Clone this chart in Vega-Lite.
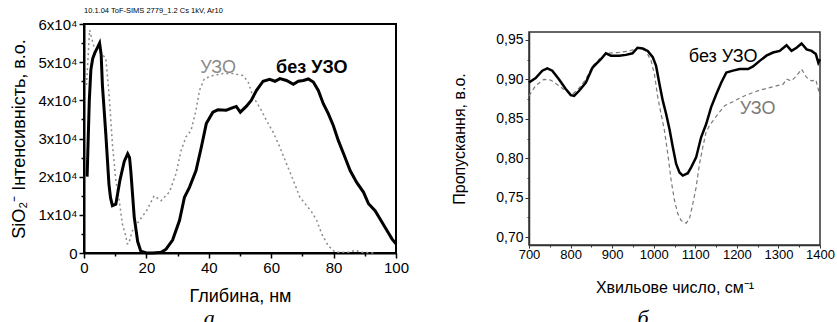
{
  "$schema": "https://vega.github.io/schema/vega-lite/v6.json",
  "background": "white",
  "padding": {"left": 9, "top": 5, "right": 0, "bottom": 0},
  "spacing": 41,
  "config": {
    "font": "Liberation Sans",
    "view": {"stroke": "black", "strokeWidth": 2},
    "axis": {"grid": false, "domainColor": "black", "tickColor": "black", "labelColor": "black", "titleColor": "black", "labelFont": "Liberation Sans", "titleFont": "Liberation Sans", "titleFontWeight": "normal", "labelOverlap": false, "labelFlush": false},
    "title": {"font": "Liberation Sans", "color": "black"}
  },
  "hconcat": [
    {
      "title": {"text": "а", "orient": "bottom", "font": "Liberation Serif", "fontStyle": "italic", "fontWeight": "normal", "fontSize": 22, "anchor": "middle", "offset": 2},
      "vconcat": [
        {
          "width": 312,
          "height": 229,
          "title": {"text": "10.1.04 ToF-SIMS 2779_1.2 Cs 1kV, Ar10", "fontSize": 7.5, "fontWeight": "normal", "anchor": "start", "frame": "group", "offset": 3},
          "data": {"values": [
            {"s": "без УЗО", "x": 1, "y": 20000}, {"s": "без УЗО", "x": 1.7, "y": 40000}, {"s": "без УЗО", "x": 2.2, "y": 48000}, {"s": "без УЗО", "x": 2.8, "y": 51000}, {"s": "без УЗО", "x": 3.5, "y": 52500}, {"s": "без УЗО", "x": 4.3, "y": 53800}, {"s": "без УЗО", "x": 5, "y": 55000}, {"s": "без УЗО", "x": 5.5, "y": 52000}, {"s": "без УЗО", "x": 5.9, "y": 44000}, {"s": "без УЗО", "x": 6.5, "y": 37000}, {"s": "без УЗО", "x": 7, "y": 31000}, {"s": "без УЗО", "x": 8, "y": 18000}, {"s": "без УЗО", "x": 8.5, "y": 14500}, {"s": "без УЗО", "x": 9.1, "y": 12400}, {"s": "без УЗО", "x": 10.2, "y": 12800}, {"s": "без УЗО", "x": 11.5, "y": 19000}, {"s": "без УЗО", "x": 12.9, "y": 24000}, {"s": "без УЗО", "x": 14, "y": 26000}, {"s": "без УЗО", "x": 14.6, "y": 25000}, {"s": "без УЗО", "x": 15, "y": 21500}, {"s": "без УЗО", "x": 16.1, "y": 9400}, {"s": "без УЗО", "x": 17.2, "y": 3000}, {"s": "без УЗО", "x": 18.2, "y": 500}, {"s": "без УЗО", "x": 20, "y": 0}, {"s": "без УЗО", "x": 22, "y": 0}, {"s": "без УЗО", "x": 24, "y": 100}, {"s": "без УЗО", "x": 25, "y": 300}, {"s": "без УЗО", "x": 26.3, "y": 1000}, {"s": "без УЗО", "x": 28.4, "y": 3400}, {"s": "без УЗО", "x": 30.6, "y": 8500}, {"s": "без УЗО", "x": 32.2, "y": 14600}, {"s": "без УЗО", "x": 33.8, "y": 17200}, {"s": "без УЗО", "x": 35.9, "y": 21600}, {"s": "без УЗО", "x": 37.6, "y": 27700}, {"s": "без УЗО", "x": 39.2, "y": 33900}, {"s": "без УЗО", "x": 41.3, "y": 36900}, {"s": "без УЗО", "x": 42.9, "y": 37500}, {"s": "без УЗО", "x": 45.6, "y": 37400}, {"s": "без УЗО", "x": 47.5, "y": 38000}, {"s": "без УЗО", "x": 48.8, "y": 38400}, {"s": "без УЗО", "x": 50.1, "y": 36900}, {"s": "без УЗО", "x": 52, "y": 38400}, {"s": "без УЗО", "x": 53.6, "y": 40000}, {"s": "без УЗО", "x": 55.3, "y": 42600}, {"s": "без УЗО", "x": 57.4, "y": 45000}, {"s": "без УЗО", "x": 59.5, "y": 45500}, {"s": "без УЗО", "x": 61.2, "y": 45000}, {"s": "без УЗО", "x": 62.8, "y": 45700}, {"s": "без УЗО", "x": 64.9, "y": 45200}, {"s": "без УЗО", "x": 67.1, "y": 44200}, {"s": "без УЗО", "x": 68.7, "y": 45000}, {"s": "без УЗО", "x": 70.3, "y": 45200}, {"s": "без УЗО", "x": 71.9, "y": 45600}, {"s": "без УЗО", "x": 73.5, "y": 44800}, {"s": "без УЗО", "x": 75.1, "y": 42600}, {"s": "без УЗО", "x": 76.7, "y": 39100}, {"s": "без УЗО", "x": 78.3, "y": 36500}, {"s": "без УЗО", "x": 79.9, "y": 33400}, {"s": "без УЗО", "x": 81.5, "y": 29500}, {"s": "без УЗО", "x": 83.2, "y": 26000}, {"s": "без УЗО", "x": 85.3, "y": 21600}, {"s": "без УЗО", "x": 87.4, "y": 18500}, {"s": "без УЗО", "x": 89.6, "y": 15900}, {"s": "без УЗО", "x": 91.2, "y": 12900}, {"s": "без УЗО", "x": 93.3, "y": 11100}, {"s": "без УЗО", "x": 94.9, "y": 8900}, {"s": "без УЗО", "x": 97.1, "y": 5900}, {"s": "без УЗО", "x": 98.7, "y": 3700}, {"s": "без УЗО", "x": 100, "y": 2400},
            {"s": "УЗО", "x": 0.8, "y": 44000}, {"s": "УЗО", "x": 1.8, "y": 58400}, {"s": "УЗО", "x": 3.2, "y": 54000}, {"s": "УЗО", "x": 4.8, "y": 53000}, {"s": "УЗО", "x": 7, "y": 51000}, {"s": "УЗО", "x": 8, "y": 42000}, {"s": "УЗО", "x": 9.1, "y": 28600}, {"s": "УЗО", "x": 10.2, "y": 19000}, {"s": "УЗО", "x": 11.3, "y": 13700}, {"s": "УЗО", "x": 12.3, "y": 7600}, {"s": "УЗО", "x": 13.2, "y": 5000}, {"s": "УЗО", "x": 13.9, "y": 2400}, {"s": "УЗО", "x": 14.3, "y": 2400}, {"s": "УЗО", "x": 15.5, "y": 5800}, {"s": "УЗО", "x": 17.7, "y": 8500}, {"s": "УЗО", "x": 20, "y": 11000}, {"s": "УЗО", "x": 22.5, "y": 15000}, {"s": "УЗО", "x": 24.7, "y": 13700}, {"s": "УЗО", "x": 27.4, "y": 16000}, {"s": "УЗО", "x": 29.5, "y": 20800}, {"s": "УЗО", "x": 31.1, "y": 26800}, {"s": "УЗО", "x": 32.7, "y": 30400}, {"s": "УЗО", "x": 34.3, "y": 32100}, {"s": "УЗО", "x": 35.9, "y": 37400}, {"s": "УЗО", "x": 37, "y": 42600}, {"s": "УЗО", "x": 38.6, "y": 45700}, {"s": "УЗО", "x": 41.3, "y": 46500}, {"s": "УЗО", "x": 44.5, "y": 47000}, {"s": "УЗО", "x": 47.7, "y": 47000}, {"s": "УЗО", "x": 51, "y": 46500}, {"s": "УЗО", "x": 52.6, "y": 44800}, {"s": "УЗО", "x": 54.2, "y": 40900}, {"s": "УЗО", "x": 56.3, "y": 38200}, {"s": "УЗО", "x": 58.5, "y": 34700}, {"s": "УЗО", "x": 60.6, "y": 31700}, {"s": "УЗО", "x": 62.8, "y": 27700}, {"s": "УЗО", "x": 64.9, "y": 23400}, {"s": "УЗО", "x": 67.1, "y": 19000}, {"s": "УЗО", "x": 69.2, "y": 14600}, {"s": "УЗО", "x": 71.4, "y": 12400}, {"s": "УЗО", "x": 73, "y": 10700}, {"s": "УЗО", "x": 74.6, "y": 8500}, {"s": "УЗО", "x": 76.2, "y": 5000}, {"s": "УЗО", "x": 78.3, "y": 1900}, {"s": "УЗО", "x": 80.5, "y": 200}, {"s": "УЗО", "x": 85.3, "y": 200}, {"s": "УЗО", "x": 86.9, "y": 800}, {"s": "УЗО", "x": 88.5, "y": 200}, {"s": "УЗО", "x": 92.8, "y": 0}
          ]},
          "encoding": {
            "x": {"field": "x", "type": "quantitative", "scale": {"domain": [0, 100], "nice": false},
              "axis": {"title": "Глибина, нм", "titleFontSize": 18, "titlePadding": 12, "labelFontSize": 15, "labelPadding": 2, "domainWidth": 2, "tickWidth": 1.5,
                "values": [0, 10, 20, 30, 40, 50, 60, 70, 80, 90, 100],
                "labelExpr": "datum.value % 20 == 0 ? datum.label : ''",
                "tickSize": {"condition": {"test": "datum.value % 20 != 0", "value": 3}, "value": 5}}},
            "y": {"field": "y", "type": "quantitative", "scale": {"domain": [0, 60000], "nice": false},
              "axis": {"title": "SiO₂⁻ Інтенсивність, в.о.", "titleFontSize": 18, "titlePadding": 10, "labelFontSize": 15, "labelPadding": 2, "domainWidth": 2, "tickWidth": 1.5,
                "values": [0, 5000, 10000, 15000, 20000, 25000, 30000, 35000, 40000, 45000, 50000, 55000, 60000],
                "labelExpr": "datum.value % 10000 != 0 ? '' : (datum.value == 0 ? '0' : (datum.value / 10000) + 'x10⁴')",
                "tickSize": {"condition": {"test": "datum.value % 10000 != 0", "value": 3}, "value": 5}}}
          },
          "layer": [
            {"transform": [{"filter": "datum.s == 'УЗО'"}], "mark": {"type": "line", "color": "#8a8a8a", "strokeWidth": 1.5, "strokeDash": [2, 3]}},
            {"transform": [{"filter": "datum.s == 'без УЗО'"}], "mark": {"type": "line", "color": "black", "strokeWidth": 3}},
            {"data": {"values": [{"x": 43, "y": 48600, "t": "УЗО"}]}, "mark": {"type": "text", "fontSize": 18, "color": "#8a8a8a"}, "encoding": {"text": {"field": "t"}}},
            {"data": {"values": [{"x": 73, "y": 48400, "t": "без УЗО"}]}, "mark": {"type": "text", "fontSize": 18, "fontWeight": "bold", "color": "black"}, "encoding": {"text": {"field": "t"}}}
          ]
        }
      ]
    },
    {
      "title": {"text": "б", "orient": "bottom", "font": "Liberation Serif", "fontStyle": "italic", "fontWeight": "normal", "fontSize": 22, "anchor": "middle", "offset": 12},
      "spacing": 0,
      "vconcat": [
        {
          "width": 291,
          "height": 7,
          "data": {"values": [{"t": ""}]},
          "mark": {"type": "point", "opacity": 0},
          "view": {"stroke": null}
        },
        {
          "width": 291,
          "height": 213,
          "view": {"stroke": "#333333", "strokeWidth": 1.5},
          "data": {"values": [
            {"s": "без УЗО", "x": 700, "y": 0.896}, {"s": "без УЗО", "x": 716, "y": 0.9015}, {"s": "без УЗО", "x": 732, "y": 0.911}, {"s": "без УЗО", "x": 744, "y": 0.914}, {"s": "без УЗО", "x": 756, "y": 0.911}, {"s": "без УЗО", "x": 772, "y": 0.9}, {"s": "без УЗО", "x": 788, "y": 0.888}, {"s": "без УЗО", "x": 800.5, "y": 0.88}, {"s": "без УЗО", "x": 808.6, "y": 0.879}, {"s": "без УЗО", "x": 820.7, "y": 0.8855}, {"s": "без УЗО", "x": 836.8, "y": 0.896}, {"s": "без УЗО", "x": 852.9, "y": 0.915}, {"s": "без УЗО", "x": 873, "y": 0.9255}, {"s": "без УЗО", "x": 885, "y": 0.933}, {"s": "без УЗО", "x": 897, "y": 0.93}, {"s": "без УЗО", "x": 917, "y": 0.93}, {"s": "без УЗО", "x": 933, "y": 0.931}, {"s": "без УЗО", "x": 949, "y": 0.933}, {"s": "без УЗО", "x": 961, "y": 0.94}, {"s": "без УЗО", "x": 973.5, "y": 0.939}, {"s": "без УЗО", "x": 985.6, "y": 0.936}, {"s": "без УЗО", "x": 997.7, "y": 0.928}, {"s": "без УЗО", "x": 1005.7, "y": 0.917}, {"s": "без УЗО", "x": 1013.8, "y": 0.894}, {"s": "без УЗО", "x": 1021.8, "y": 0.873}, {"s": "без УЗО", "x": 1029.9, "y": 0.856}, {"s": "без УЗО", "x": 1037.9, "y": 0.837}, {"s": "без УЗО", "x": 1046, "y": 0.814}, {"s": "без УЗО", "x": 1054, "y": 0.7927}, {"s": "без УЗО", "x": 1062, "y": 0.782}, {"s": "без УЗО", "x": 1070, "y": 0.778}, {"s": "без УЗО", "x": 1082, "y": 0.781}, {"s": "без УЗО", "x": 1090, "y": 0.7885}, {"s": "без УЗО", "x": 1102, "y": 0.801}, {"s": "без УЗО", "x": 1114, "y": 0.8265}, {"s": "без УЗО", "x": 1126, "y": 0.843}, {"s": "без УЗО", "x": 1138, "y": 0.8645}, {"s": "без УЗО", "x": 1150.5, "y": 0.881}, {"s": "без УЗО", "x": 1162.6, "y": 0.896}, {"s": "без УЗО", "x": 1174.7, "y": 0.9087}, {"s": "без УЗО", "x": 1190.7, "y": 0.911}, {"s": "без УЗО", "x": 1206.8, "y": 0.913}, {"s": "без УЗО", "x": 1227, "y": 0.913}, {"s": "без УЗО", "x": 1239, "y": 0.9163}, {"s": "без УЗО", "x": 1255, "y": 0.9234}, {"s": "без УЗО", "x": 1271, "y": 0.93}, {"s": "без УЗО", "x": 1287, "y": 0.934}, {"s": "без УЗО", "x": 1303, "y": 0.936}, {"s": "без УЗО", "x": 1319.5, "y": 0.9433}, {"s": "без УЗО", "x": 1331.5, "y": 0.936}, {"s": "без УЗО", "x": 1343.6, "y": 0.94}, {"s": "без УЗО", "x": 1355.7, "y": 0.9454}, {"s": "без УЗО", "x": 1367.8, "y": 0.938}, {"s": "без УЗО", "x": 1379.8, "y": 0.936}, {"s": "без УЗО", "x": 1390, "y": 0.932}, {"s": "без УЗО", "x": 1396, "y": 0.921}, {"s": "без УЗО", "x": 1400, "y": 0.9255},
            {"s": "УЗО", "x": 700, "y": 0.879}, {"s": "УЗО", "x": 716, "y": 0.892}, {"s": "УЗО", "x": 736, "y": 0.9}, {"s": "УЗО", "x": 752, "y": 0.899}, {"s": "УЗО", "x": 772, "y": 0.892}, {"s": "УЗО", "x": 788, "y": 0.8855}, {"s": "УЗО", "x": 804.6, "y": 0.881}, {"s": "УЗО", "x": 820.7, "y": 0.889}, {"s": "УЗО", "x": 836.8, "y": 0.9}, {"s": "УЗО", "x": 852.9, "y": 0.917}, {"s": "УЗО", "x": 873, "y": 0.9277}, {"s": "УЗО", "x": 885, "y": 0.933}, {"s": "УЗО", "x": 917, "y": 0.934}, {"s": "УЗО", "x": 941, "y": 0.936}, {"s": "УЗО", "x": 965, "y": 0.94}, {"s": "УЗО", "x": 981.5, "y": 0.936}, {"s": "УЗО", "x": 993.6, "y": 0.9235}, {"s": "УЗО", "x": 1001.7, "y": 0.9066}, {"s": "УЗО", "x": 1009.8, "y": 0.877}, {"s": "УЗО", "x": 1017.8, "y": 0.856}, {"s": "УЗО", "x": 1025.8, "y": 0.835}, {"s": "УЗО", "x": 1033.9, "y": 0.8055}, {"s": "УЗО", "x": 1042, "y": 0.7717}, {"s": "УЗО", "x": 1050, "y": 0.7464}, {"s": "УЗО", "x": 1058, "y": 0.7295}, {"s": "УЗО", "x": 1066, "y": 0.721}, {"s": "УЗО", "x": 1078, "y": 0.7177}, {"s": "УЗО", "x": 1086, "y": 0.7232}, {"s": "УЗО", "x": 1094, "y": 0.742}, {"s": "УЗО", "x": 1102, "y": 0.763}, {"s": "УЗО", "x": 1110, "y": 0.7927}, {"s": "УЗО", "x": 1118, "y": 0.8138}, {"s": "УЗО", "x": 1126, "y": 0.833}, {"s": "УЗО", "x": 1134, "y": 0.8412}, {"s": "УЗО", "x": 1142.5, "y": 0.8475}, {"s": "УЗО", "x": 1154.5, "y": 0.856}, {"s": "УЗО", "x": 1170.6, "y": 0.8665}, {"s": "УЗО", "x": 1186.7, "y": 0.8707}, {"s": "УЗО", "x": 1202.8, "y": 0.875}, {"s": "УЗО", "x": 1219, "y": 0.8792}, {"s": "УЗО", "x": 1239, "y": 0.8833}, {"s": "УЗО", "x": 1255, "y": 0.8863}, {"s": "УЗО", "x": 1275, "y": 0.8889}, {"s": "УЗО", "x": 1295, "y": 0.8918}, {"s": "УЗО", "x": 1311.4, "y": 0.8939}, {"s": "УЗО", "x": 1319.5, "y": 0.9003}, {"s": "УЗО", "x": 1331.5, "y": 0.898}, {"s": "УЗО", "x": 1343.6, "y": 0.9045}, {"s": "УЗО", "x": 1355.7, "y": 0.9129}, {"s": "УЗО", "x": 1367.8, "y": 0.9024}, {"s": "УЗО", "x": 1379.8, "y": 0.898}, {"s": "УЗО", "x": 1390, "y": 0.8994}, {"s": "УЗО", "x": 1400, "y": 0.879}
          ]},
          "encoding": {
            "x": {"field": "x", "type": "quantitative", "scale": {"domain": [700, 1400], "nice": false},
              "axis": {"title": "Хвильове число, см⁻¹", "titleFontSize": 16, "titlePadding": 18, "labelFontSize": 13, "labelPadding": 0, "domainColor": "#333333", "domainWidth": 1.5, "tickColor": "#333333", "tickWidth": 1,
                "values": [700, 750, 800, 850, 900, 950, 1000, 1050, 1100, 1150, 1200, 1250, 1300, 1350, 1400],
                "labelExpr": "datum.value % 100 == 0 ? datum.label : ''",
                "format": "d",
                "tickSize": {"condition": {"test": "datum.value % 100 != 0", "value": 2}, "value": 3}}},
            "y": {"field": "y", "type": "quantitative", "scale": {"domain": [0.69, 0.96], "nice": false, "zero": false},
              "axis": {"title": "Пропускання, в.о.", "titleFontSize": 16, "titlePadding": 28, "labelFontSize": 14, "labelPadding": 2, "domainColor": "#333333", "domainWidth": 1.5, "tickColor": "#333333", "tickWidth": 1,
                "values": [0.7, 0.725, 0.75, 0.775, 0.8, 0.825, 0.85, 0.875, 0.9, 0.925, 0.95],
                "labelExpr": "round(datum.value * 40) % 2 == 1 ? '' : replace(format(datum.value, '.2f'), '.', ',')",
                "tickSize": {"condition": {"test": "round(datum.value * 40) % 2 == 1", "value": 2}, "value": 4}}}
          },
          "layer": [
            {"transform": [{"filter": "datum.s == 'УЗО'"}], "mark": {"type": "line", "color": "#7a7a7a", "strokeWidth": 1.2, "strokeDash": [4, 3]}},
            {"transform": [{"filter": "datum.s == 'без УЗО'"}], "mark": {"type": "line", "color": "black", "strokeWidth": 2.5}},
            {"data": {"values": [{"x": 1167, "y": 0.9286, "t": "без УЗО"}]}, "mark": {"type": "text", "fontSize": 18, "color": "black"}, "encoding": {"text": {"field": "t"}}},
            {"data": {"values": [{"x": 1250, "y": 0.863, "t": "УЗО"}]}, "mark": {"type": "text", "fontSize": 18, "color": "#7a7a7a"}, "encoding": {"text": {"field": "t"}}}
          ]
        }
      ]
    }
  ]
}
